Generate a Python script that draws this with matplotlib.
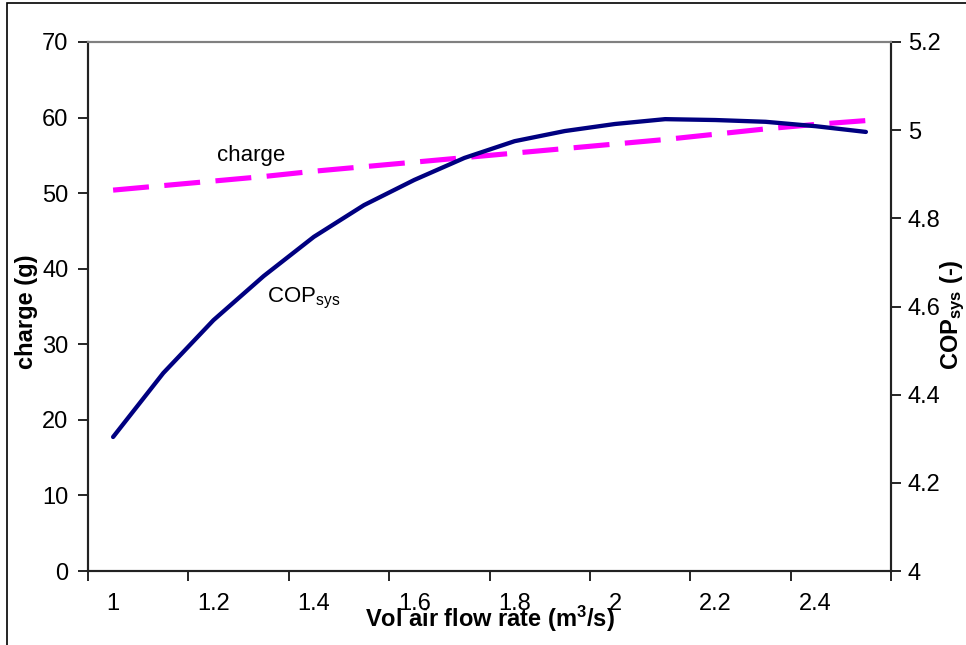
import matplotlib
matplotlib.use("Agg")
import matplotlib.pyplot as plt
import matplotlib.ticker as ticker
from matplotlib.patches import Rectangle


flow = [1.0, 1.1, 1.2, 1.3, 1.4, 1.5, 1.6, 1.7, 1.8, 1.9, 2.0, 2.1, 2.2, 2.3, 2.4, 2.5]
charge = [50.4, 51.0, 51.6, 52.2, 52.9, 53.5, 54.1, 54.7, 55.3, 55.9, 56.5, 57.1, 57.8, 58.5, 59.1, 59.6]
cop = [4.304, 4.449, 4.569, 4.669, 4.758, 4.830, 4.887, 4.937, 4.975, 4.998,
       5.014, 5.025, 5.023, 5.019, 5.009, 4.996]
x_labels = [1.0, 1.2, 1.4, 1.6, 1.8, 2.0, 2.2, 2.4]

plt.rcParams["font.family"] = ["Liberation Sans", "DejaVu Sans"]
plt.rcParams["mathtext.fontset"] = "custom"
plt.rcParams["mathtext.rm"] = "Liberation Sans"
plt.rcParams["mathtext.bf"] = "Liberation Sans:bold"
plt.rcParams["mathtext.it"] = "Liberation Sans:italic"

fig = plt.figure(figsize=(9.66, 6.45), dpi=100)
ax = fig.add_axes([88/966, 1-571/645, (891-88)/966, (571-42)/645])
ax2 = ax.twinx()

# outer chart-area border (only top/left visible in the crop)
fig.add_artist(Rectangle((7/966, -0.1), 1.2, (1 - 3/645) + 0.1,
                         transform=fig.transFigure, fill=False,
                         edgecolor="black", linewidth=1.2, clip_on=False))

ax.plot(flow, charge, color="#ff00ff", linewidth=3.7, dashes=(7, 3),
        dash_capstyle="butt")
ax2.plot(flow, cop, color="#000080", linewidth=3.1, solid_capstyle="round",
         solid_joinstyle="round")

ax.set_xlim(0.95, 2.55)
ax.set_ylim(0, 70)
ax2.set_ylim(4, 5.2)

ax.set_yticks(range(0, 71, 10))
ax2.set_yticks([4, 4.2, 4.4, 4.6, 4.8, 5.0, 5.2])
ax2.yaxis.set_major_formatter(ticker.FuncFormatter(lambda v, p: f"{v:g}"))

# tick marks between categories, labels on the data points
ax.set_xticks([0.95 + 0.2*k for k in range(9)])
ax.set_xticklabels([])
ax.set_xticks(x_labels, minor=True)
ax.set_xticklabels([f"{v:g}" for v in x_labels], minor=True)
ax.tick_params(axis="x", which="minor", length=0, pad=16, labelsize=17)
ax.tick_params(axis="x", which="major", direction="out", length=7, width=1.2)
ax.tick_params(axis="y", direction="out", length=7, width=1.2, pad=7, labelsize=17)
ax2.tick_params(axis="y", direction="out", length=7, width=1.2, pad=5, labelsize=17)

for a in (ax, ax2):
    a.spines["top"].set_color("#808080")
    a.spines["top"].set_linewidth(1.5)
    for s in ("left", "right", "bottom"):
        a.spines[s].set_color("#222222")
        a.spines[s].set_linewidth(1.5)

ax.set_xlabel(r"Vol air flow rate (m$^{\mathbf{3}}$/s)", fontsize=17, fontweight="bold")
ax.xaxis.set_label_coords(0.5, -0.062)
ax.xaxis.label.set_va("top")

ax.set_ylabel("charge (g)", fontsize=17, fontweight="bold")
ax.yaxis.set_label_coords(-0.076, 0.49)
ax.yaxis.label.set_va("center")

ax2.set_ylabel(r"COP$_{\mathbf{sys}}$ (-)", fontsize=17, fontweight="bold")
ax2.yaxis.set_label_coords(1.077, 0.485)
ax2.yaxis.label.set_va("center")

ax.text(1.275, 55.0, "charge", fontsize=16, ha="center", va="center")
ax.text(1.306, 36.1, r"COP$_{\mathrm{sys}}$", fontsize=16, ha="left", va="center")

fig.savefig("out.png", dpi=100)
